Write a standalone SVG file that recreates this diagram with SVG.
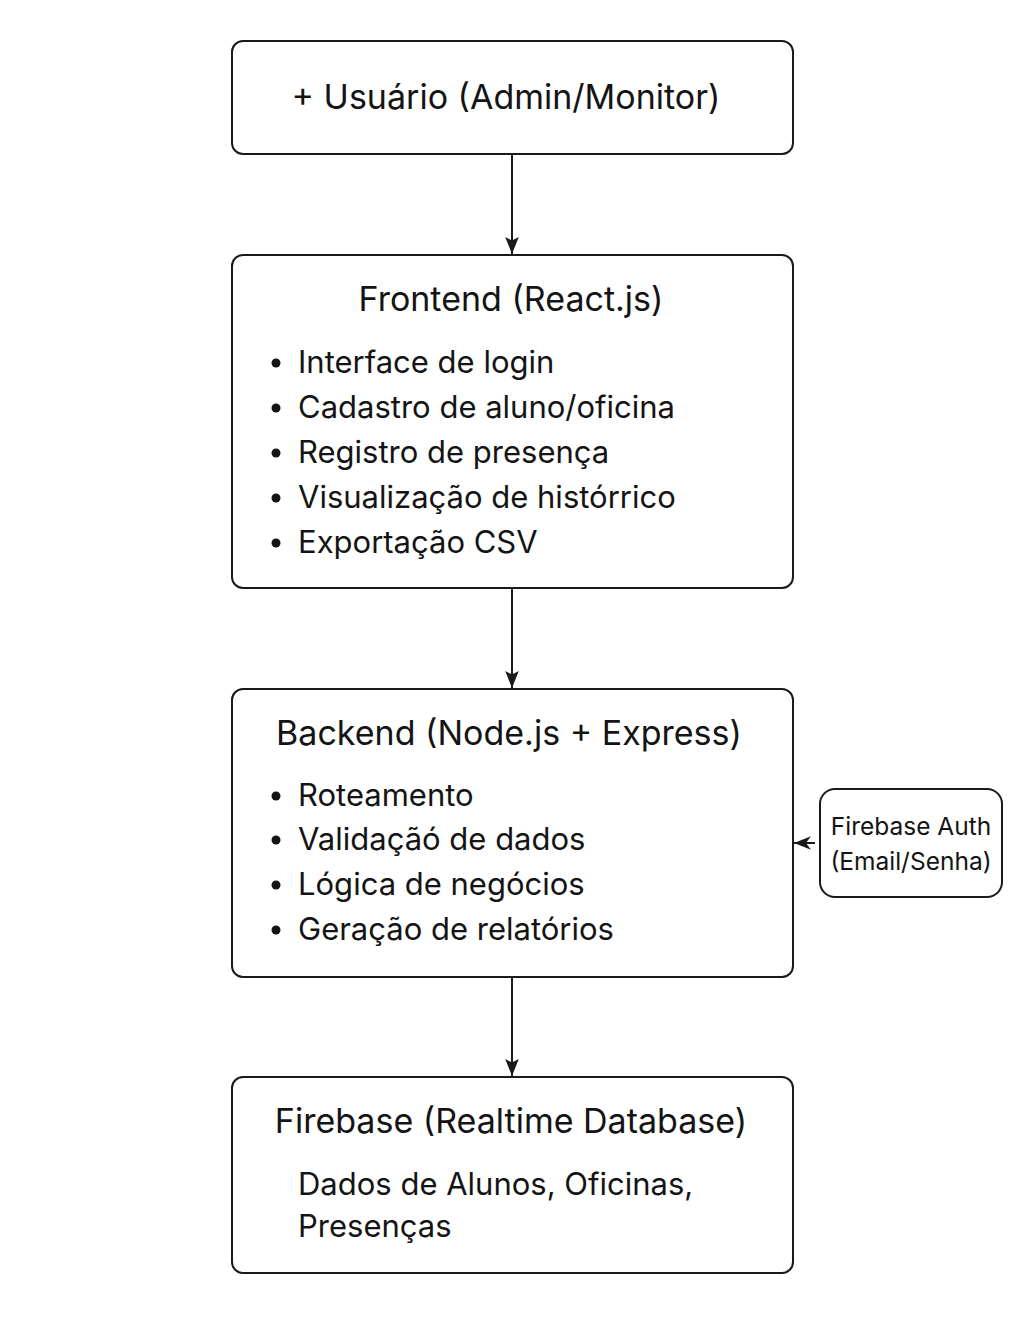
<svg xmlns="http://www.w3.org/2000/svg" width="1024" height="1319" viewBox="0 0 1024 1319">
<style>
.box{fill:#fff;stroke:#1a1a1a;stroke-width:2}
.t{font-family:Inter,"Noto Sans","Liberation Sans",sans-serif;fill:#141414}
.h{font-size:34px;text-anchor:middle}
.i{font-size:31px}
.s{font-size:24.5px;text-anchor:middle}
.c{stroke:#1a1a1a;stroke-width:2;fill:none}
</style>
<defs>
<marker id="ah" viewBox="0 0 10 10" refX="10" refY="5" markerWidth="17" markerHeight="17" markerUnits="userSpaceOnUse" orient="auto">
<path d="M0,1 L10,5 L0,9 L2,5 z" fill="#1a1a1a"/>
</marker>
<marker id="ah2" viewBox="0 0 10 10" refX="10" refY="5" markerWidth="17" markerHeight="17" markerUnits="userSpaceOnUse" orient="auto">
<path d="M0,1 L10,5 L0,9 L3,5 z" fill="#1a1a1a"/>
</marker>
</defs>
<rect width="1024" height="1319" fill="#fff"/>
<g id="connectors">
<line class="c" x1="512" y1="154" x2="512" y2="254" marker-end="url(#ah)"/>
<line class="c" x1="512" y1="588" x2="512" y2="688" marker-end="url(#ah)"/>
<line class="c" x1="512" y1="977" x2="512" y2="1076" marker-end="url(#ah)"/>
<line class="c" x1="815" y1="843" x2="794" y2="843" marker-end="url(#ah2)"/>
</g>
<g id="usuario">
<rect class="box" x="232" y="41" width="561" height="113" rx="11"/>
<text class="t h" x="506" y="109">+ Usuário (Admin/Monitor)</text>
</g>
<g id="frontend">
<rect class="box" x="232" y="255" width="561" height="333" rx="11"/>
<text class="t h" x="511" y="311">Frontend (React.js)</text>
<g class="t i">
<circle cx="276" cy="363" r="4.5"/><text x="298" y="373">Interface de login</text>
<circle cx="276" cy="408" r="4.5"/><text x="298" y="418">Cadastro de aluno/oficina</text>
<circle cx="276" cy="453" r="4.5"/><text x="298" y="463">Registro de presença</text>
<circle cx="276" cy="498" r="4.5"/><text x="298" y="508">Visualização de histórrico</text>
<circle cx="276" cy="543" r="4.5"/><text x="298" y="553">Exportação CSV</text>
</g>
</g>
<g id="backend">
<rect class="box" x="232" y="689" width="561" height="288" rx="11"/>
<text class="t h" x="509" y="745">Backend (Node.js + Express)</text>
<g class="t i">
<circle cx="276" cy="796" r="4.5"/><text x="298" y="806">Roteamento</text>
<circle cx="276" cy="840" r="4.5"/><text x="298" y="850">Validaçãó de dados</text>
<circle cx="276" cy="885" r="4.5"/><text x="298" y="895">Lógica de negócios</text>
<circle cx="276" cy="930" r="4.5"/><text x="298" y="940">Geração de relatórios</text>
</g>
</g>
<g id="firebase-auth">
<rect class="box" x="820" y="789" width="182" height="108" rx="15"/>
<text class="t s" x="911" y="835">Firebase Auth</text>
<text class="t s" x="911" y="870">(Email/Senha)</text>
</g>
<g id="firebase-db">
<rect class="box" x="232" y="1077" width="561" height="196" rx="11"/>
<text class="t h" x="511" y="1133">Firebase (Realtime Database)</text>
<text class="t i" x="298" y="1195">Dados de Alunos, Oficinas,</text>
<text class="t i" x="298" y="1237">Presenças</text>
</g>
</svg>
